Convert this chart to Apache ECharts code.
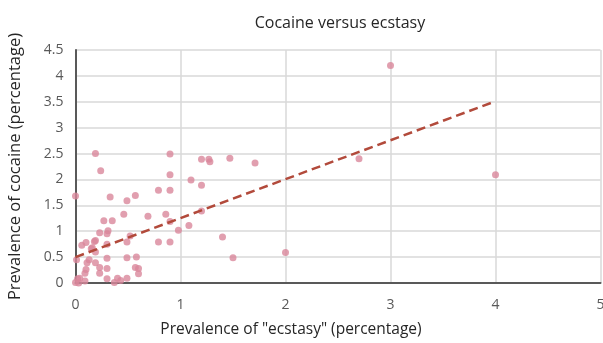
<!DOCTYPE html>
<html>
<head>
<meta charset="utf-8">
<script src="https://cdn.jsdelivr.net/npm/echarts@6/dist/echarts.min.js"></script>
<style>
  html, body { margin: 0; padding: 0; background: #fff; }
  #chart { width: 603px; height: 343px; }
</style>
</head>
<body>
<div id="chart"></div>
<script>
// ecstasy (x) vs cocaine (y) prevalence
const ecstasy = [
  0, 0.19, 0.24, 0.33, 0.57, 0.49, 0.79, 0.9, 0.9, 0.9,
  1.2, 1.27, 1.28, 1.47, 1.71, 1.1, 1.2, 1.2, 0.98, 1.08,
  1.4, 1.5, 0.86, 0.9, 0.79, 0.9, 0.69, 0.46, 0.27, 0.35,
  0.31, 0.3, 0.23, 0.3, 0.49, 0.52, 0.18, 0.19, 0.06, 0.1,
  0.15, 0.16, 0.19, 0.01, 0.13, 0.11, 0.19, 0.23, 0.23, 0.3,
  0.3, 0.49, 0.58, 0.57, 0.6, 0.6, 0.1, 0.09, 0.09, 0.02,
  0.03, 0.04, 0.3, 0.37, 0.4, 0.43, 0.49, 0.0, 2.7, 2.0,
  3.0, 4.0
];
const cocaine = [
  1.68, 2.5, 2.17, 1.66, 1.69, 1.59, 1.79, 2.49, 2.09, 1.79,
  2.39, 2.39, 2.34, 2.41, 2.32, 1.99, 1.89, 1.39, 1.02, 1.11,
  0.89, 0.49, 1.33, 1.19, 0.79, 0.79, 1.29, 1.33, 1.2, 1.2,
  1.01, 0.95, 0.97, 0.75, 0.79, 0.91, 0.8, 0.82, 0.73, 0.78,
  0.66, 0.68, 0.6, 0.45, 0.45, 0.39, 0.39, 0.3, 0.19, 0.48,
  0.28, 0.49, 0.5, 0.3, 0.28, 0.18, 0.26, 0.19, 0.04, 0.08,
  0.0, 0.09, 0.08, 0.01, 0.09, 0.05, 0.09, 0.01, 2.4, 0.59,
  4.2, 2.09
];
// linear trend line endpoints
const trendX = [0, 4];
const trendY = [0.5, 3.51];

const FONT = '"Open Sans", "Noto Sans", sans-serif';
const TEXT = '#595959';

const chart = echarts.init(document.getElementById('chart'), null, { renderer: 'canvas' });
chart.setOption({
  animation: false,
  title: [
    {
      text: 'Cocaine versus ecstasy',
      left: 335,
      textAlign: 'center',
      top: 10,
      textStyle: { fontFamily: FONT, fontSize: 16, fontWeight: 'normal', color: '#262626' }
    },
    {
      // x axis title sits left of the plot centre in the original
      text: 'Prevalence of "ecstasy" (percentage)',
      left: 286,
      textAlign: 'center',
      top: 317,
      textStyle: { fontFamily: FONT, fontSize: 15.5, fontWeight: 'normal', color: '#262626' }
    }
  ],
  grid: { left: 75.5, right: 2.5, top: 50, bottom: 60, containLabel: false, outerBoundsMode: 'none' },
  xAxis: {
    type: 'value',
    min: 0, max: 5, interval: 1,
    axisLine: { show: true, lineStyle: { color: TEXT, width: 2 } },
    axisTick: { show: false },
    axisLabel: { fontFamily: FONT, fontSize: 14, color: TEXT, margin: 15 },
    splitLine: { show: true, lineStyle: { color: '#d9d9d9', width: 1.5 } }
  },
  yAxis: {
    type: 'value',
    min: 0, max: 4.5, interval: 0.5,
    name: 'Prevalence of cocaine (percentage)',
    nameLocation: 'middle',
    nameGap: 52,
    nameTextStyle: { fontFamily: FONT, fontSize: 16.5, color: '#262626' },
    axisLine: { show: true, lineStyle: { color: TEXT, width: 2 } },
    axisTick: { show: false },
    axisLabel: { fontFamily: FONT, fontSize: 14, color: TEXT, margin: 12 },
    splitLine: { show: true, lineStyle: { color: '#d9d9d9', width: 1.5 } }
  },
  series: [
    {
      type: 'scatter',
      symbolSize: 7,
      itemStyle: { color: '#d9879b' },
      data: ecstasy.map((x, i) => [x, cocaine[i]]),
      z: 2
    },
    {
      type: 'line',
      symbol: 'none',
      lineStyle: { color: '#b24a3b', width: 2.5, type: [9, 5] },
      data: trendX.map((x, i) => [x, trendY[i]]),
      z: 3
    }
  ]
});
</script>
</body>
</html>
